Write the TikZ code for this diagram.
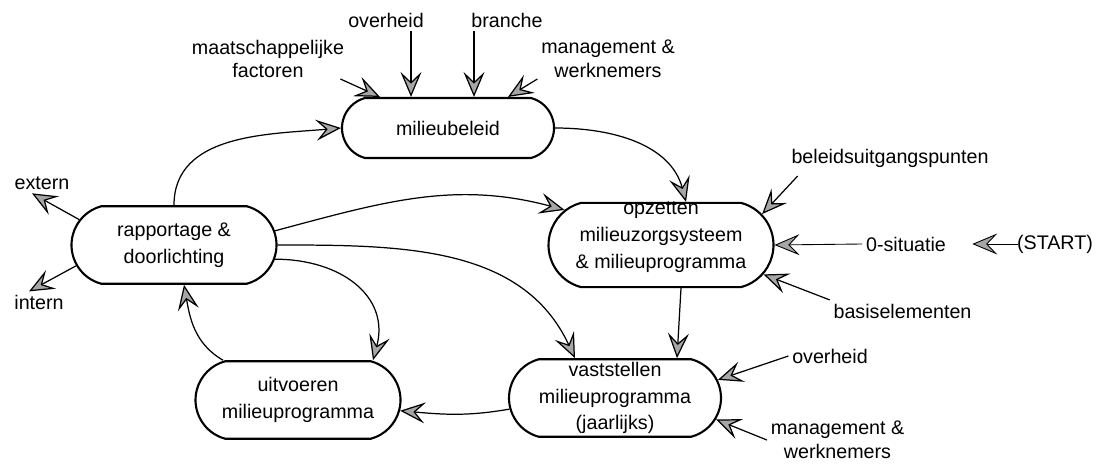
\documentclass[tikz,border=0pt]{standalone}
\usepackage{fontspec}
\setmainfont{Liberation Sans}
\usepackage{tikz}
\usetikzlibrary{positioning}
\usetikzlibrary{shapes.misc}
\usetikzlibrary{arrows.meta}

\begin{document}
\begin{tikzpicture}[
	font=\fontsize{11.2}{15.3}\selectfont,
	stage/.style={draw, line width=1.2pt, rounded rectangle, rounded rectangle arc length=150, align=center, inner xsep=-3mm, inner ysep=1pt, minimum height=1.55cm},
	factor/.style={align=center, inner sep=2pt, font=\fontsize{11.2}{13.5}\selectfont},
	flow/.style={line width=0.7pt, -{Stealth[length=5mm, width=4.2mm, inset=2mm, fill=gray!70]}},
	]
			\useasboundingbox (0,0) rectangle (22.02,-9.38);
			\node at (8.96,-2.56) (beleid) [stage, minimum width=3.64cm, minimum height=1.2cm] {milieubeleid};
			\node at (3.48,-4.9) (rapp) [stage, minimum width=3.5cm] {rapportage \&\\ doorlichting};
			\node at (13.22,-4.9) (opz) [stage, minimum width=3.9cm, minimum height=1.6cm] {\raisebox{1.8mm}[\height][\depth]{\begin{tabular}{@{}c@{}}opzetten\\ milieuzorgsysteem\\ \& milieuprogramma\end{tabular}}};
			\node at (5.96,-8.0) (uitv) [stage, minimum width=3.5cm] {uitvoeren\\ milieuprogramma};
			\node at (12.3,-7.96) (vast) [stage, minimum width=3.64cm] {vaststellen\\ milieuprogramma\\ (jaarlijks)};
			\node at (7.72,-0.4) (ovh1) [factor] {overheid};
			\node at (10.14,-0.4) (branche) [factor] {branche};
			\node at (5.36,-1.18) (maatsch) [factor] {maatschappelijke\\ factoren};
			\node at (12.16,-1.18) (mgmt1) [factor] {management \&\\ werknemers};
			\node at (0.84,-3.66) (extern) [factor] {extern};
			\node at (0.78,-6.05) (intern) [factor] {intern};
			\node at (17.8,-3.16) (belei) [factor] {beleidsuitgangspunten};
			\node at (18.12,-4.88) (nul) [factor] {0-situatie};
			\node at (21.1,-4.88) (start) [factor] {(START)};
			\node at (18.05,-6.22) (basis) [factor] {basiselementen};
			\node at (16.6,-7.12) (ovh2) [factor] {overheid};
			\node at (16.75,-8.8) (mgmt2) [factor] {management \&\\ werknemers};
			% naar milieubeleid
			\draw[flow] ([shift={(-1.5mm,-4mm)}]maatsch.east) -- ([xshift=-1.36cm]beleid.north);
			\draw[flow] ([xshift=5mm]ovh1.south) -- ([xshift=5mm]ovh1.south |- beleid.north);
			\draw[flow] ([xshift=-6.6mm]branche.south) -- ([xshift=-6.6mm]branche.south |- beleid.north);
			\draw[flow] ([yshift=-4mm]mgmt1.west) -- ([xshift=1.2cm]beleid.north);
			% de cyclus
			\draw[flow] (rapp.north) to[out=90,in=185] (beleid.west);
			\draw[flow] (beleid.east) to[out=0,in=105] ([xshift=5mm]opz.north);
			\draw[flow] (rapp.8) to[out=15,in=165] (opz.160);
			\draw[flow] (rapp.east) to[out=0,in=115] ([xshift=-8mm]vast.north);
			\draw[flow] (rapp.-8) to[out=0,in=75,looseness=1.2] ([xshift=1.5cm]uitv.north);
			\draw[flow] ([xshift=-1.5cm]uitv.north) to[out=150,in=-80] ([xshift=2mm]rapp.south);
			\draw[flow] ([xshift=4mm]opz.south) -- ([xshift=1.24cm]vast.north);
			\draw[flow] (vast.186) to[out=190,in=-5] (uitv.-6);
			% naar opzetten
			\draw[flow] ([shift={(2mm,-1mm)}]belei.south west) -- (opz.17);
			\draw[flow, line width=0.5pt] (nul.west) -- (opz.east);
			\draw[flow, line width=0.5pt, shorten >=4.5mm, shorten <=-1mm] (start.west) -- (nul.east);
			\draw[flow] (basis.north west) -- (opz.-16);
			% naar vaststellen
			\draw[flow] (ovh2.west) -- (vast.10);
			\draw[flow] (mgmt2.west) -- (vast.-12);
			% rapportage naar buiten
			\draw[flow] (rapp.165) -- ([xshift=-2mm]extern.south);
			\draw[flow] (rapp.192) -- ([xshift=-2mm]intern.north);
\end{tikzpicture}
\end{document}
